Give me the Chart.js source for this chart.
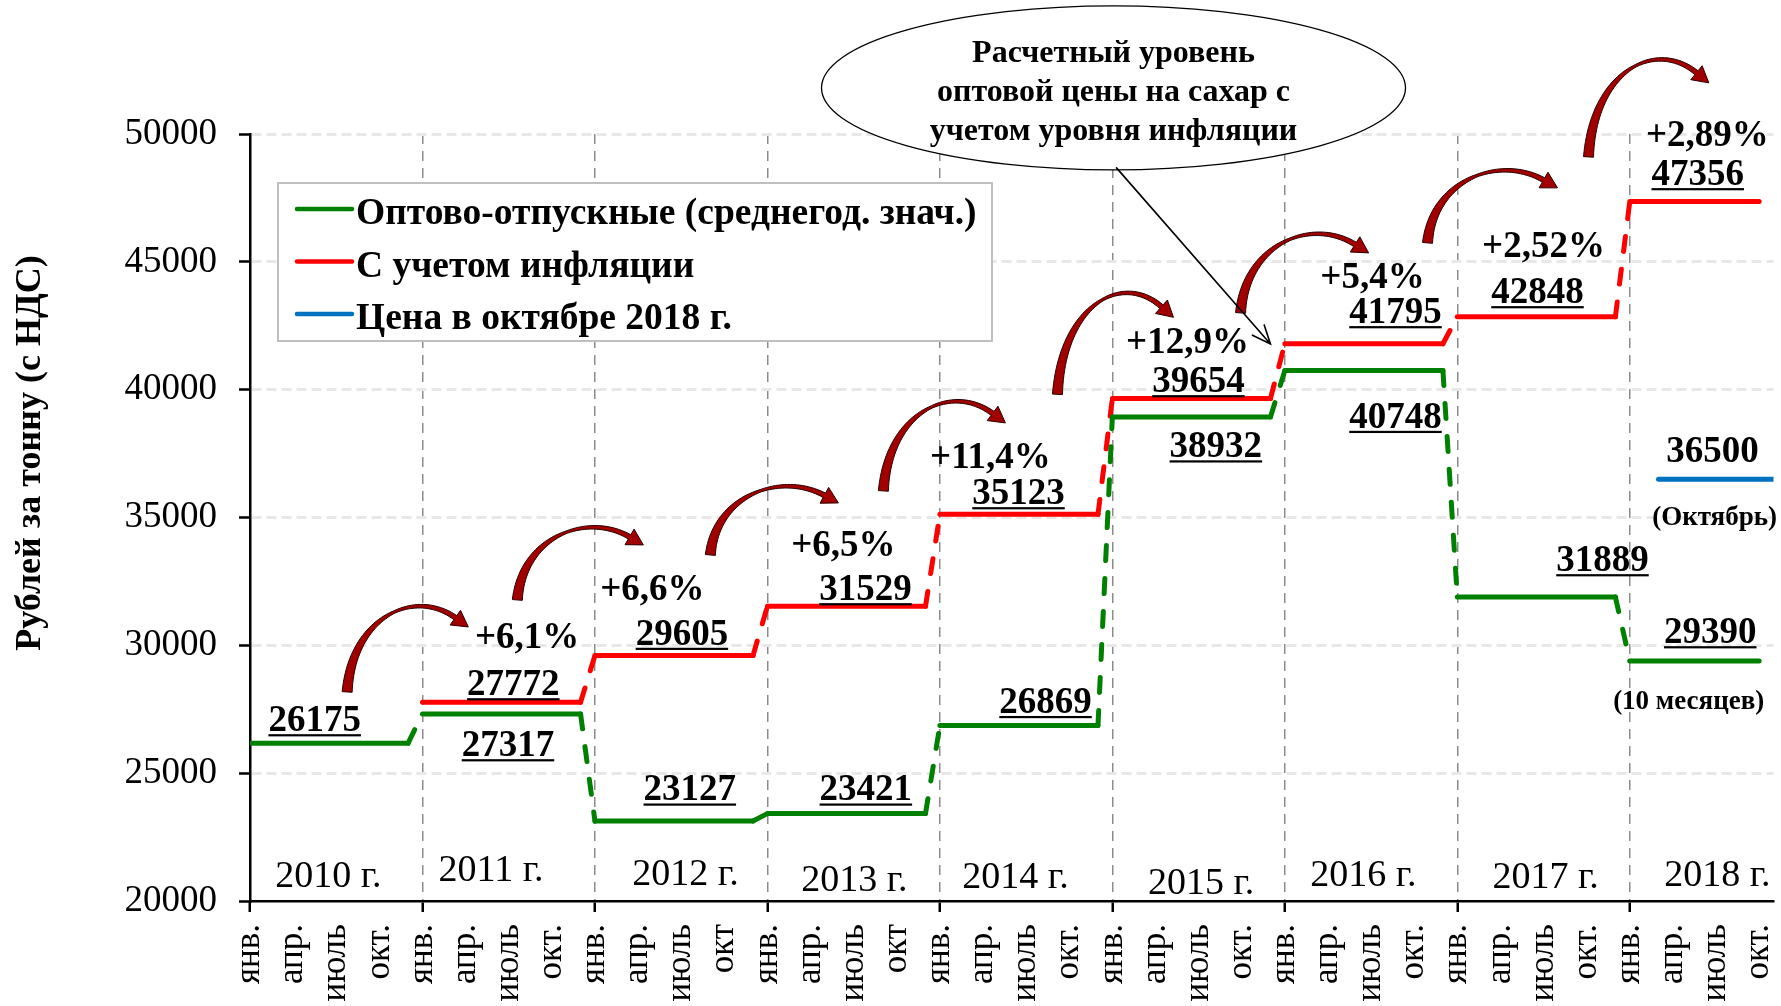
<!DOCTYPE html>
<html>
<head>
<meta charset="utf-8">
<script src="https://cdn.jsdelivr.net/npm/chart.js@4.4.1/dist/chart.umd.min.js"></script>
<style>
  html, body { margin: 0; padding: 0; background: #fff; }
  canvas { display: block; }
</style>
</head>
<body>
<canvas id="sugarChart" width="1781" height="1006"></canvas>
<script>
const FONT = '"Liberation Serif", "Times New Roman", serif';

/* DATA */
const years = ["2010 г.", "2011 г.", "2012 г.", "2013 г.", "2014 г.", "2015 г.", "2016 г.", "2017 г.", "2018 г."];
const monthsPerYear = [12, 12, 12, 12, 12, 12, 12, 12, 10];
const quarterLabels = [
  "янв.", "апр.", "июль", "окт.",
  "янв.", "апр.", "июль", "окт.",
  "янв.", "апр.", "июль", "окт",
  "янв.", "апр.", "июль", "окт",
  "янв.", "апр.", "июль", "окт.",
  "янв.", "апр.", "июль", "окт.",
  "янв.", "апр.", "июль", "окт.",
  "янв.", "апр.", "июль", "окт.",
  "янв.", "апр.", "июль", "окт."
];
const wholesale = [26175, 27317, 23127, 23421, 26869, 38932, 40748, 31889, 29390];
const inflationAdjusted = [null, 27772, 29605, 31529, 35123, 39654, 41795, 42848, 47356];
const inflationGrowth = ["+6,1%", "+6,6%", "+6,5%", "+11,4%", "+12,9%", "+5,4%", "+2,52%", "+2,89%"];
const octoberMonths = [98, 106];
const octoberPrice = [36500, 36500];

/* label placement, in chart units (month, rub) */
const wholesaleLabelAt = [[4.5,27120],[17.95,26142],[30.6,24409],[42.85,24409],[55.35,27832],[67.2,37831],[79.7,38985],[94.1,33379],[101.6,30562]];
const adjustedLabelAt = [null,[18.32,28528],[30.05,30500],[42.82,32245],[53.47,36000],[65.99,40382],[79.7,43081],[89.58,43863],[100.73,48479]];
const growthLabelAt = [[19.28,30367],[28.0,32245],[41.29,33966],[51.52,37408],[65.23,41907],[78.1,44450],[90.0,45663],[101.4,50006]];
const yearLabelAt = [[5.45,20939],[16.77,21174],[30.3,21017],[42.05,20782],[53.26,20900],[66.17,20681],[77.47,20978],[90.14,20900],[102.1,20978]];
const arrowsAt = [
  [[6.76,28176],[15.19,30719]], [[18.6,31775],[27.37,33927]], [[32.03,33535],[40.94,35570]],
  [[44.07,36039],[52.56,38699]], [[56.18,39817],[64.25,42830]], [[68.92,43002],[77.83,45350]],
  [[81.93,45741],[90.97,47893]], [[93.13,49104],[101.5,52000]]
];

function stepPoints(values) {
  const pts = [];
  values.forEach((v, i) => {
    if (v == null) return;
    pts.push({ x: i * 12, y: v }, { x: i * 12 + monthsPerYear[i] - 1, y: v });
  });
  return pts;
}

const dashedJumps = {
  borderDash: c => c.p0.parsed.y !== c.p1.parsed.y ? [15, 18] : undefined
};

function underlinedText(ctx, text, x, y, size, underline) {
  ctx.font = 'bold ' + size + 'px ' + FONT;
  ctx.textAlign = 'center';
  ctx.textBaseline = 'alphabetic';
  const base = y + size * 0.33;
  ctx.fillText(text, x, base);
  if (underline) {
    const w = ctx.measureText(text).width;
    ctx.fillRect(x - w / 2, base + 3, w, 2.2);
  }
}

// curved block arrow: thick tail, thin crest, arrowhead at (x1, y1)
function curvedArrow(ctx, x0, y0, x1, y1) {
  const dx = x1 - x0, dy = y0 - y1;
  const p1 = [x0 + 0.04 * dx, y0 - 1.15 * dy];
  const p2 = [x0 + 0.55 * dx, y1 - 0.6 * dy];
  let ux = x1 - p2[0], uy = y1 - p2[1];
  const ul = Math.hypot(ux, uy); ux /= ul; uy /= ul;
  const headLen = 16, headHalf = 9;
  const e = [x1 - ux * headLen, y1 - uy * headLen];
  const left = [], right = [];
  const n = 50;
  for (let i = 0; i <= n; i++) {
    const t = i / n, s = 1 - t;
    const px = s*s*s*x0 + 3*s*s*t*p1[0] + 3*s*t*t*p2[0] + t*t*t*e[0];
    const py = s*s*s*y0 + 3*s*s*t*p1[1] + 3*s*t*t*p2[1] + t*t*t*e[1];
    const tx = 3*s*s*(p1[0]-x0) + 6*s*t*(p2[0]-p1[0]) + 3*t*t*(e[0]-p2[0]);
    const ty = 3*s*s*(p1[1]-y0) + 6*s*t*(p2[1]-p1[1]) + 3*t*t*(e[1]-p2[1]);
    const tl = Math.hypot(tx, ty) || 1;
    const nx = -ty / tl, ny = tx / tl;
    const w = (t < 0.55 ? 10 - 7.5 * t / 0.55 : 2.5 + 2.5 * (t - 0.55) / 0.45) / 2;
    left.push([px + nx * w, py + ny * w]);
    right.push([px - nx * w, py - ny * w]);
  }
  ctx.beginPath();
  ctx.moveTo(left[0][0], left[0][1]);
  left.forEach(p => ctx.lineTo(p[0], p[1]));
  const nx = -uy, ny = ux;
  ctx.lineTo(e[0] + nx * headHalf, e[1] + ny * headHalf);
  ctx.lineTo(x1, y1);
  ctx.lineTo(e[0] - nx * headHalf, e[1] - ny * headHalf);
  for (let i = right.length - 1; i >= 0; i--) ctx.lineTo(right[i][0], right[i][1]);
  ctx.closePath();
  ctx.fillStyle = '#a00000';
  ctx.fill();
  ctx.strokeStyle = '#2a0000';
  ctx.lineWidth = 1;
  ctx.stroke();
}

const annotations = {
  id: 'annotations',
  afterDatasetsDraw(chart) {
    const { ctx, scales: { x, y }, chartArea } = chart;
    const px = m => x.getPixelForValue(m);
    const py = v => y.getPixelForValue(v);
    ctx.save();
    ctx.fillStyle = '#000';

    /* year captions */
    ctx.font = '38px ' + FONT;
    ctx.textAlign = 'center';
    ctx.textBaseline = 'middle';
    years.forEach((t, i) => ctx.fillText(t, px(yearLabelAt[i][0]), py(yearLabelAt[i][1])));

    /* values */
    wholesale.forEach((v, i) => underlinedText(ctx, String(v), px(wholesaleLabelAt[i][0]), py(wholesaleLabelAt[i][1]), 37, true));
    inflationAdjusted.forEach((v, i) => {
      if (v == null) return;
      underlinedText(ctx, String(v), px(adjustedLabelAt[i][0]), py(adjustedLabelAt[i][1]), 37, true);
    });
    inflationGrowth.forEach((t, i) => underlinedText(ctx, t, px(growthLabelAt[i][0]), py(growthLabelAt[i][1]), 37, false));
    underlinedText(ctx, String(octoberPrice[0]), px(101.76), py(37643), 37, false);
    underlinedText(ctx, '(Октябрь)', px(101.9), py(35050), 27, false);
    underlinedText(ctx, '(10 месяцев)', px(100.1), py(27863), 27, false);

    /* growth arrows */
    arrowsAt.forEach(([a, b]) => curvedArrow(ctx, px(a[0]), py(a[1]), px(b[0]), py(b[1])));

    /* legend */
    const lx = chartArea.left + 28, ly = chartArea.top + 49;
    ctx.fillStyle = '#fff';
    ctx.fillRect(lx, ly, 714, 158);
    ctx.strokeStyle = '#bfbfbf';
    ctx.lineWidth = 2;
    ctx.strokeRect(lx, ly, 714, 158);
    chart.data.datasets.forEach((ds, i) => {
      const rowY = ly + 26 + i * 52.5;
      ctx.strokeStyle = ds.borderColor;
      ctx.lineWidth = 4.5;
      ctx.lineCap = 'round';
      ctx.beginPath();
      ctx.moveTo(lx + 19, rowY);
      ctx.lineTo(lx + 74, rowY);
      ctx.stroke();
      ctx.fillStyle = '#000';
      ctx.font = 'bold 37.5px ' + FONT;
      ctx.textAlign = 'left';
      ctx.textBaseline = 'alphabetic';
      ctx.fillText(ds.label, lx + 78, rowY + 15);
    });

    /* callout */
    const cx = px(60.08), cy = py(51805);
    ctx.fillStyle = '#fff';
    ctx.strokeStyle = '#000';
    ctx.lineWidth = 1.3;
    ctx.beginPath();
    ctx.ellipse(cx, cy, 292, 82, 0, 0, Math.PI * 2);
    ctx.fill();
    ctx.stroke();
    ctx.fillStyle = '#000';
    ctx.font = 'bold 32px ' + FONT;
    ctx.textAlign = 'center';
    ctx.textBaseline = 'alphabetic';
    ['Расчетный уровень', 'оптовой цены на сахар с', 'учетом уровня инфляции']
      .forEach((t, i) => ctx.fillText(t, cx, cy - 26 + i * 39));
    const sx = cx + 3, sy = cy + 80, tx = px(71.0), ty = py(41790);
    ctx.lineWidth = 1.6;
    ctx.beginPath();
    ctx.moveTo(sx, sy);
    ctx.lineTo(tx, ty);
    const ang = Math.atan2(ty - sy, tx - sx);
    ctx.moveTo(tx - 20 * Math.cos(ang - 0.4), ty - 20 * Math.sin(ang - 0.4));
    ctx.lineTo(tx, ty);
    ctx.lineTo(tx - 20 * Math.cos(ang + 0.4), ty - 20 * Math.sin(ang + 0.4));
    ctx.stroke();

    /* y title */
    ctx.translate(31, 453);
    ctx.rotate(-Math.PI / 2);
    ctx.font = 'bold 36px ' + FONT;
    ctx.textBaseline = 'middle';
    ctx.fillText('Рублей за тонну (с НДС)', 0, 0);
    ctx.restore();
  }
};

Chart.defaults.font.family = FONT;
Chart.defaults.color = '#000';

new Chart(document.getElementById('sugarChart'), {
  type: 'line',
  data: {
    datasets: [
      {
        label: 'Оптово-отпускные (среднегод. знач.)',
        data: stepPoints(wholesale),
        borderColor: '#008000',
        borderWidth: 5,
        segment: dashedJumps
      },
      {
        label: 'С учетом инфляции',
        data: stepPoints(inflationAdjusted),
        borderColor: '#ff0000',
        borderWidth: 5,
        segment: dashedJumps
      },
      {
        label: 'Цена в октябре 2018 г.',
        data: octoberMonths.map((m, i) => ({ x: m, y: octoberPrice[i] })),
        borderColor: '#0070c0',
        borderWidth: 5
      }
    ]
  },
  options: {
    responsive: false,
    animation: false,
    devicePixelRatio: 1,
    layout: { padding: { left: 0, top: 134, right: 7.5, bottom: 0 } },
    elements: {
      point: { radius: 0, hoverRadius: 0 },
      line: { tension: 0, borderCapStyle: 'round', borderJoinStyle: 'round', fill: false }
    },
    plugins: { legend: { display: false }, tooltip: { enabled: false } },
    scales: {
      x: {
        type: 'linear',
        min: 0,
        max: 106,
        afterBuildTicks: axis => { axis.ticks = quarterLabels.map((_, i) => ({ value: i * 3 })); },
        afterFit: axis => { axis.height = 105; axis.paddingLeft = 0; axis.paddingRight = 0; },
        ticks: {
          autoSkip: false,
          minRotation: 90,
          maxRotation: 90,
          padding: 12,
          font: { size: 35 },
          callback: (v, i) => quarterLabels[i]
        },
        grid: {
          color: c => (c.tick && c.tick.value % 12 === 0 && c.tick.value > 0) ? '#8c8c8c' : 'rgba(0,0,0,0)',
          lineWidth: 1.5,
          tickColor: c => (c.tick && c.tick.value % 12 === 0) ? '#000' : 'rgba(0,0,0,0)',
          tickLength: 11,
          tickWidth: 2.5
        },
        border: { color: '#000', width: 2.5, dash: [10, 7] }
      },
      y: {
        min: 20000,
        max: 50000,
        afterFit: axis => { axis.width = 250; },
        ticks: { stepSize: 5000, padding: 22, font: { size: 37 }, callback: v => String(v) },
        grid: {
          color: c => (c.tick && c.tick.value > 20000) ? '#e8e8e8' : 'rgba(0,0,0,0)',
          lineWidth: 3,
          tickColor: '#000',
          tickLength: 11,
          tickWidth: 2.5
        },
        border: { color: '#000', width: 2.5, dash: [10, 5] }
      }
    }
  },
  plugins: [annotations]
});
</script>
</body>
</html>
